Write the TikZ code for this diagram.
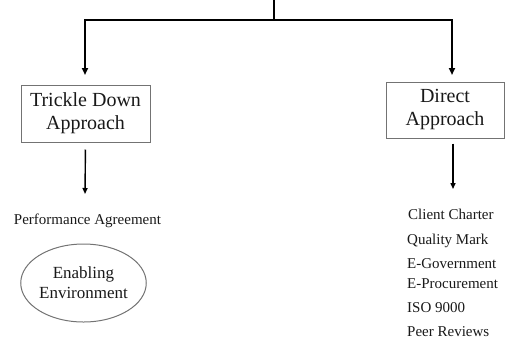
\documentclass[tikz,border=0pt]{standalone}
\usepackage{fontspec}
\setmainfont{Liberation Serif}
\usetikzlibrary{arrows.meta,shapes.geometric}
\begin{document}
\begin{tikzpicture}[x=1pt,y=-1pt,
 conn/.style={line width=2pt, line join=miter},
 arr/.style={conn,-{Triangle[length=7pt,width=6pt]}},
 arr2/.style={line width=1.4pt,-{Triangle[length=6pt,width=5pt]}},
 box/.style={draw=black!55,line width=1pt,align=center,text=black!90,font=\fontsize{20}{23}\selectfont,inner sep=0pt},
 item/.style={anchor=base west,text=black!90,font=\fontsize{15}{18}\selectfont,inner sep=0pt},
]
\useasboundingbox (0,0) rectangle (505,338);
% top connector
\coordinate (top) at (274,0);
\coordinate (jn) at (274,20);
\coordinate (la) at (85,75);
\coordinate (ra) at (452,75);
\draw[conn] (top) -- (jn);
\draw[arr] (jn) -| (la);
\draw[arr] (jn) -| (ra);
% boxes
\node[box,minimum width=129pt,minimum height=57pt] (td) at (85.5,113.5) {Trickle Down\\Approach};
\node[box,minimum width=118pt,minimum height=56pt] (da) at (445,110) {Direct\\Approach};
% left branch
\coordinate (lb) at (85,194);
\draw[arr2,shorten <=7pt] (td.south) -- (lb);
\node[anchor=base,inner sep=0pt,text=black!90,font=\fontsize{15}{18}\selectfont] (pa) at (87.5,224) {Performance Agreement};
\node[ellipse,draw=black!55,line width=1pt,minimum width=113pt,minimum height=78pt,inner sep=0pt,align=center,text=black!90,font=\fontsize{17}{20}\selectfont] (ee) at (83.5,283) {Enabling\\Environment};
% right branch
\coordinate (rb) at (453,189);
\draw[arr2,shorten <=5pt] (da.south -| rb) -- (rb);
\node[item] (i1) at (408,219) {Client Charter};
\node[item] (i2) at (407,244) {Quality Mark};
\node[item] (i3) at (407,268) {E-Government};
\node[item] (i4) at (407,288) {E-Procurement};
\node[item] (i5) at (407,312) {ISO 9000};
\node[item] (i6) at (407,336) {Peer Reviews};
\end{tikzpicture}
\end{document}
